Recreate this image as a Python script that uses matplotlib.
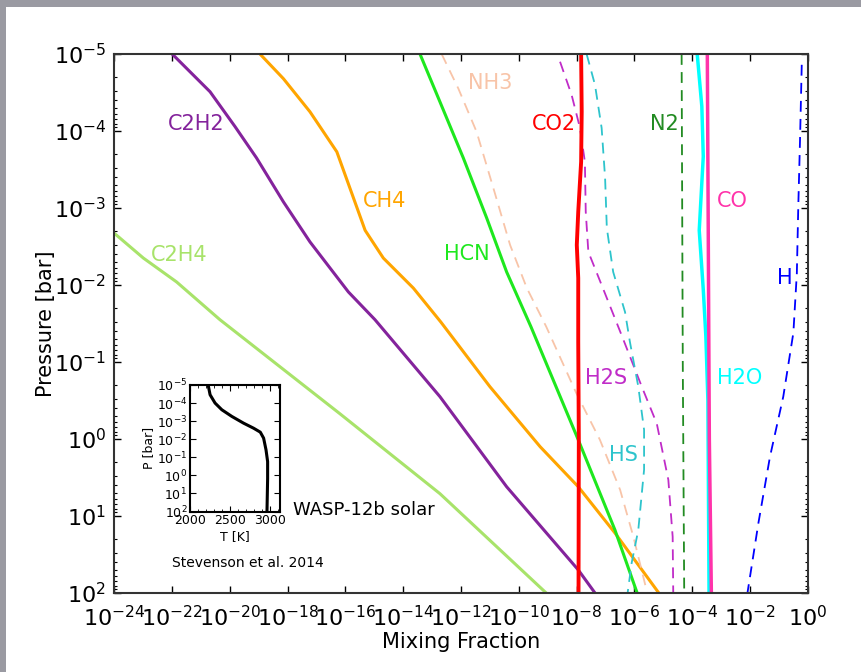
import numpy as np
import matplotlib
matplotlib.use('Agg')
import matplotlib.pyplot as plt
from matplotlib.patches import Rectangle

plt.rcParams['axes.unicode_minus'] = False

# log10 pressure [bar] / log10 mixing fraction
c2h2_lp = [-5.0, -4.51, -4.06, -3.65, -3.08, -2.56, -1.91, -1.55, -0.55, 0.62, 1.70, 2.0]
c2h2_lx = [-22.0, -20.69, -19.83, -19.08, -18.15, -17.23, -15.90, -14.98, -12.73, -10.42, -7.94, -7.36]

c2h4_lp = [-2.67, -2.35, -2.04, -1.55, -0.33, 0.71, 2.0]
c2h4_lx = [-24.0, -23.0, -21.85, -20.35, -16.2, -12.73, -9.05]

ch4_lp = [-5.0, -4.68, -4.25, -3.73, -3.21, -2.71, -2.35, -1.96, -1.52, -0.68, 0.10, 0.62, 1.22, 2.0]
ch4_lx = [-18.96, -18.15, -17.23, -16.30, -15.80, -15.32, -14.69, -13.65, -12.70, -11.0, -9.26, -7.94, -6.67, -5.15]

hcn_lp = [-5.0, -4.38, -3.65, -2.87, -2.17, -1.46, 0.01, 1.18, 2.0]
hcn_lx = [-13.42, -12.73, -11.92, -11.11, -10.42, -9.58, -7.94, -6.67, -5.90]

nh3_lp = [-5.0, -4.55, -3.99, -3.26, -2.52, -1.96, -1.46, -0.59, 0.01, 0.66, 1.27, 2.0]
nh3_lx = [-12.67, -12.09, -11.46, -10.88, -10.30, -9.72, -9.05, -8.0, -7.19, -6.49, -6.03, -5.55]

co2_lp = [-5.0, -4.25, -3.60, -2.95, -2.52, -2.09, -1.26, 0.0, 2.0]
co2_lx = [-7.84, -7.82, -7.84, -7.94, -7.99, -7.94, -7.94, -7.92, -7.93]

h2s_lp = [-4.90, -4.47, -4.04, -3.60, -2.95, -2.43, -2.0, -1.35, -0.68, -0.20, 0.53, 1.27, 2.0]
h2s_lx = [-8.57, -8.17, -7.88, -7.71, -7.68, -7.59, -7.13, -6.44, -5.74, -5.22, -4.82, -4.67, -4.65]

hs_lp = [-5.0, -4.60, -4.04, -3.39, -2.74, -2.17, -1.65, -1.26, -0.68, -0.12, 0.40, 1.18, 1.61, 2.0]
hs_lx = [-7.65, -7.36, -7.13, -7.01, -6.95, -6.73, -6.32, -6.15, -5.86, -5.66, -5.66, -5.86, -6.09, -6.23]

n2_lp = [-5.0, -1.0, 2.0]
n2_lx = [-4.36, -4.32, -4.27]

h2o_lp = [-5.0, -4.32, -3.67, -2.71, -1.94, -1.33, -0.5, 2.0]
h2o_lx = [-3.82, -3.66, -3.61, -3.75, -3.61, -3.52, -3.45, -3.41]

co_lp = [-5.0, 0.0, 2.0]
co_lx = [-3.47, -3.40, -3.33]

h_lp = [-4.86, -3.88, -3.02, -2.15, -1.38, -0.55, 0.23, 1.09, 2.0]
h_lx = [-0.20, -0.26, -0.32, -0.37, -0.49, -0.84, -1.30, -1.70, -2.08]

# temperature profile for the inset
tp_lp = [-5.0, -4.93, -4.46, -4.0, -3.63, -3.26, -2.89, -2.61, -2.39, -2.06, -1.41, -0.76, 0.17, 2.0]
tp_T = [2228, 2229, 2250, 2312, 2396, 2521, 2666, 2791, 2875, 2916, 2946, 2966, 2966, 2958]

# name, lp, lx, color, style, lw, label position (mixing fraction, pressure)
species = [
    ('C2H4', c2h4_lp, c2h4_lx, '#a8e36a', '-', 2.2, (1.7e-22, 4.1e-3)),
    ('C2H2', c2h2_lp, c2h2_lx, '#84239c', '-', 2.2, (6.6e-22, 8.1e-5)),
    ('CH4', ch4_lp, ch4_lx, 'orange', '-', 2.2, (2.3e-15, 8.1e-4)),
    ('HCN', hcn_lp, hcn_lx, '#1ee81e', '-', 2.2, (1.6e-12, 4.0e-3)),
    ('NH3', nh3_lp, nh3_lx, '#f8c4a8', '--', 1.3, (1.0e-11, 2.4e-5)),
    ('H2S', h2s_lp, h2s_lx, '#c02cc8', '--', 1.3, (1.05e-7, 0.162)),
    ('HS', hs_lp, hs_lx, '#2ec4cc', '--', 1.3, (4.1e-7, 1.62)),
    ('N2', n2_lp, n2_lx, '#228b22', '--', 1.3, (1.07e-5, 8.1e-5)),
    ('H', h_lp, h_lx, 'blue', '--', 1.3, (0.166, 8.1e-3)),
    ('CO2', co2_lp, co2_lx, 'red', '-', 2.8, (1.66e-9, 8.1e-5)),
    ('H2O', h2o_lp, h2o_lx, 'cyan', '-', 2.5, (4.6e-3, 0.162)),
    ('CO', co_lp, co_lx, '#ff33aa', '-', 2.5, (2.5e-3, 8.1e-4)),
]

fig = plt.figure(figsize=(8.62, 6.72), dpi=100)
fig.patch.set_facecolor('#9a9aa2')
fig.add_artist(Rectangle((6 / 862, 0), 1, 1 - 7 / 672, transform=fig.transFigure,
                         facecolor='white', edgecolor='none', zorder=-1))

ax = fig.add_axes([0.1328, 0.1176, 0.804, 0.802])
for name, lp, lx, col, ls, lw, pos in species:
    kw = dict(dashes=(6, 4)) if ls == '--' else {}
    ax.plot(10 ** np.array(lx), 10 ** np.array(lp), color=col, ls=ls, lw=lw, **kw)
    ax.text(pos[0], pos[1], name, color=col, fontsize=15, ha='center', va='center')

ax.set_xscale('log')
ax.set_yscale('log')
ax.set_xlim(1e-24, 1e0)
ax.set_ylim(1e2, 1e-5)
ax.set_xticks(10.0 ** np.arange(-24, 1, 2))
ax.xaxis.set_minor_locator(matplotlib.ticker.NullLocator())
ax.set_yticks(10.0 ** np.arange(-5, 3))
ax.tick_params(which='both', direction='in', top=True, right=True)
ax.tick_params(which='major', length=5, width=1)
ax.tick_params(which='minor', length=2.5, width=0.8)
ax.tick_params(axis='y', labelsize=16, pad=6)
ax.tick_params(axis='x', labelsize=16, pad=9)
for s in ax.spines.values():
    s.set_linewidth(1.5)
    s.set_color('#333333')
ax.set_xlabel('Mixing Fraction', fontsize=15, labelpad=1)
ax.set_ylabel('Pressure [bar]', fontsize=15)
ax.yaxis.set_label_coords(-0.085, 0.5)

fig.text(293 / 862, 1 - 510 / 672, 'WASP-12b solar', fontsize=13, ha='left', va='center')
fig.text(248 / 862, 1 - 563 / 672, 'Stevenson et al. 2014', fontsize=10, ha='center', va='center')

# inset temperature profile
ins = fig.add_axes([190 / 862, 1 - 511.5 / 672, 90 / 862, 126.5 / 672])
ins.plot(tp_T, 10 ** np.array(tp_lp), color='black', lw=2.2)
ins.set_yscale('log')
ins.set_xlim(2000, 3120)
ins.set_ylim(1e2, 1e-5)
ins.set_xticks([2000, 2500, 3000])
ins.set_yticks(10.0 ** np.arange(-5, 3))
ins.xaxis.set_minor_locator(matplotlib.ticker.MultipleLocator(100))
ins.tick_params(which='both', direction='in', top=True, right=True, labelsize=9, pad=2)
ins.tick_params(which='major', length=4)
ins.tick_params(which='minor', length=2)
for s in ins.spines.values():
    s.set_linewidth(1.5)
ins.set_xlabel('T [K]', fontsize=9, labelpad=2)
ins.set_ylabel('P [bar]', fontsize=9, labelpad=1)

fig.savefig('out.png', dpi=100, facecolor=fig.get_facecolor())
